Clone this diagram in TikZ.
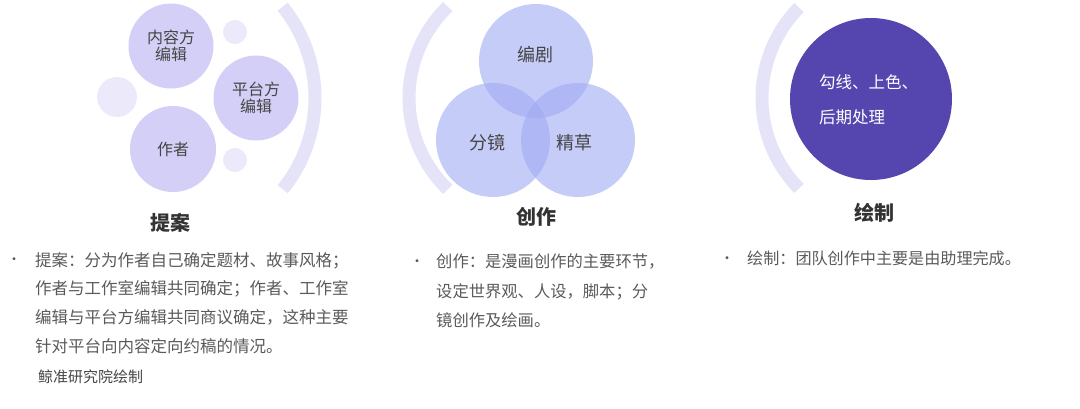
\documentclass[tikz,border=0pt]{standalone}
\usepackage{fontspec}
\setmainfont{Noto Sans CJK SC}
\definecolor{lavA}{HTML}{D4CFF6}
\definecolor{lavS}{HTML}{ECEAFA}
\definecolor{arcc}{HTML}{E5E3F8}
\definecolor{venn}{HTML}{A0AAF3}
\definecolor{deep}{HTML}{5446AE}
\definecolor{lbl}{HTML}{454545}
\definecolor{body}{HTML}{5A5A5A}
\definecolor{ttl}{HTML}{333333}
\begin{document}
\begin{tikzpicture}[x=1pt,y=-1pt,
  bigc/.style={circle,fill=lavA,inner sep=0pt,text=lbl,align=center,font=\fontsize{16}{17}\selectfont},
  smallc/.style={circle,fill=lavS,inner sep=0pt},
  arcst/.style={draw=arcc,line width=13pt},
  vennc/.style={circle,fill=venn,fill opacity=0.6,inner sep=0pt,minimum size=114pt},
  vlabel/.style={text=lbl,font=\fontsize{18}{20}\selectfont,inner sep=0pt},
  title/.style={text=ttl,font=\bfseries\fontsize{20}{22}\selectfont,inner sep=0pt},
  bodytext/.style={text=body,align=left,anchor=north west,inner sep=0pt},
  bullet/.style={text=body,inner sep=0pt,font=\fontsize{14}{16}\selectfont}]
\useasboundingbox (0,0) rectangle (1080,408);
% left group
\node[smallc,minimum size=40pt] (s1) at (117,97) {};
\node[smallc,minimum size=24pt] (s2) at (235,32) {};
\node[smallc,minimum size=24pt] (s3) at (235,160) {};
\node[bigc,minimum size=85pt] (nrf) at (171,46) {内容方\\编辑};
\node[bigc,minimum size=85pt] (ptf) at (256,98) {平台方\\编辑};
\node[bigc,minimum size=86pt] (zz) at (173,149) {作者};
\draw[arcst] (170,98) ++(-39:145) arc (-39:39:145);
% middle group
\draw[arcst] (536,98) ++(134:127) arc (134:226:127);
\node[vennc] (v1) at (536,61) {};
\node[vennc] (v2) at (493,140) {};
\node[vennc] (v3) at (578,140) {};
\node[vlabel] (l1) at (535,55) {编剧};
\node[vlabel] (l2) at (487,143) {分镜};
\node[vlabel] (l3) at (574,143) {精草};
% right group
\draw[arcst] (891,98) ++(135.5:129) arc (135.5:224.5:129);
\node[circle,fill=deep,inner sep=0pt,minimum size=162pt] (dc) at (871,99) {};
\node[text=white,align=left,anchor=north west,inner sep=0pt,font=\fontsize{16.5}{35}\selectfont] (dt) at (819,74) {勾线、上色、\\后期处理};
% titles
\node[title] (t1) at (170,223) {提案};
\node[title] (t2) at (536,217) {创作};
\node[title] (t3) at (874,213) {绘制};
% body texts
\node[bullet] (b1) at (14,261) {•};
\node[bodytext,font=\fontsize{16.5}{28.7}\selectfont] (x1) at (35,252) {提案：分为作者自己确定题材、故事风格；\\作者与工作室编辑共同确定；作者、工作室\\编辑与平台方编辑共同商议确定，这种主要\\针对平台向内容定向约稿的情况。};
\node[bodytext,text=lbl,font=\fontsize{15}{17}\selectfont] (src) at (38,370) {鲸准研究院绘制};
\node[bullet] (b2) at (417,263) {•};
\node[bodytext,font=\fontsize{16.3}{29.5}\selectfont] (x2) at (436,254) {创作：是漫画创作的主要环节，\\设定世界观、人设，脚本；分\\镜创作及绘画。};
\node[bullet] (b3) at (727,260) {•};
\node[bodytext,font=\fontsize{16.1}{28}\selectfont] (x3) at (747,251) {绘制：团队创作中主要是由助理完成。};
\end{tikzpicture}
\end{document}
